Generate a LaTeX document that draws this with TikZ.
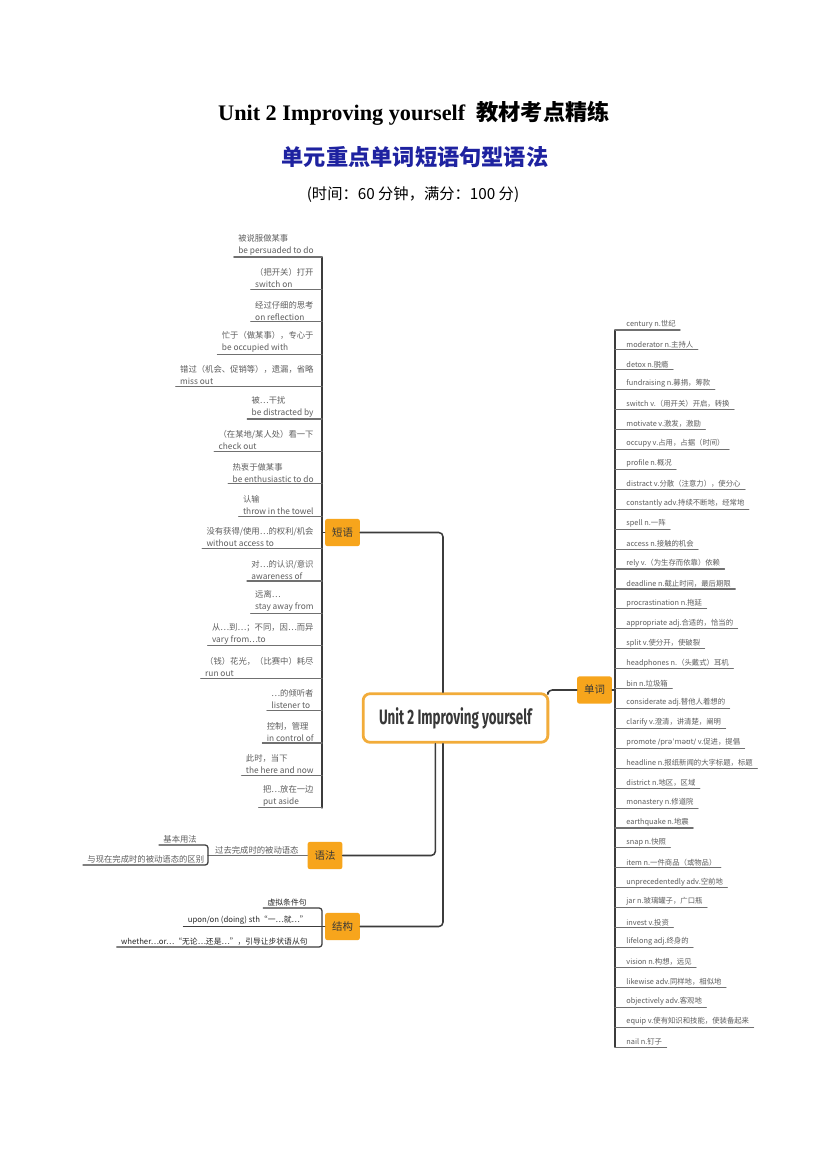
\documentclass[tikz,border=0pt]{standalone}
\usepackage{fontspec}
\setmainfont{Liberation Serif}
\newfontfamily\cjk{Noto Sans CJK SC}
\newfontfamily\ipa{DejaVu Sans}
\newfontfamily\zxfont[FakeStretch=0.64]{Fira Sans}
\definecolor{juhuang}{HTML}{F7A51C}
\definecolor{bianhuang}{HTML}{F2AC3A}
\definecolor{shenlan}{HTML}{1E22A0}
\definecolor{shenhui}{HTML}{3C3C3C}
\definecolor{huixian}{HTML}{707070}
\definecolor{huizi}{HTML}{5E5E5E}
\definecolor{zxzi}{HTML}{383838}
\begin{document}
\begin{tikzpicture}[x=0.72pt,y=-0.72pt,line join=round,line cap=round,
	zhongxin/.style={draw=bianhuang,line width=2pt,rounded corners=5pt,fill=white,minimum width=133pt,minimum height=35pt,font=\zxfont\bfseries\fontsize{15}{16}\selectfont,text=zxzi},
	zhi/.style={fill=juhuang,rounded corners=1.5pt,minimum width=25pt,minimum height=19.5pt,inner sep=0pt,font=\cjk\fontsize{7.5}{8}\selectfont,text=zxzi},
	xiang/.style={font=\cjk\fontsize{6}{8.6}\selectfont,text=huizi,align=left,inner xsep=3pt,inner ysep=1pt},
	ci/.style={font=\cjk\fontsize{5.3}{6}\selectfont,text=huizi,inner xsep=3pt,inner ysep=1.2pt},
	jg/.style={font=\cjk\fontsize{5.6}{6}\selectfont,text=black!85,inner xsep=3pt,inner ysep=1.2pt},
	xian/.style={draw=huixian,line width=0.8pt},
	gan/.style={draw=shenhui,line width=0.9pt},
	lian/.style={draw=shenhui,line width=1.1pt,rounded corners=3pt}]
	\def\xdy{322} \def\xdc{615} % x of the two brackets
	\fill[white] (0,0) rectangle (827,1169);
	\useasboundingbox (0,0) rectangle (827,1169);
	% header
	\node[font=\bfseries\fontsize{16}{19}\selectfont] (biaoti) at (414,113) {Unit 2 Improving yourself~~{\cjk 教材考点精练}};
	\node[font=\cjk\bfseries\fontsize{16}{18}\selectfont,text=shenlan] (fubiaoti) at (415,157) {单元重点单词短语句型语法};
	\node[font=\cjk\fontsize{11}{13}\selectfont] (shijian) at (413,195) {(时间：60 分钟，满分：100 分)};
	% centre and branches
	\node[zhongxin] (zx) at (455.5,718) {Unit 2 Improving yourself};
	\node[zhi] (duanyu) at (342.5,532.5) {短语};
	\node[zhi] (danci) at (594.5,690) {单词};
	\node[zhi] (yufa) at (325,855.5) {语法};
	\node[zhi] (jiegou) at (342.5,926.5) {结构};
	\draw[lian] (duanyu.east) -| ([xshift=-9pt]zx.north);
	\draw[lian] ([xshift=-1pt]zx.north east) |- (danci.west);
	\draw[lian] ([xshift=-14.5pt]zx.south) |- (yufa.east);
	\draw[lian] ([xshift=-9pt]zx.south) |- (jiegou.east);
	% 短语
	\draw[gan] (\xdy,257) -- (\xdy,808);
	\draw[gan] (duanyu.west) -- (\xdy,532.5);
	\foreach \zh/\en [count=\i from 0] in {被说服做某事/be persuaded to do,（把开关）打开/switch on,经过仔细的思考/on reflection,忙于（做某事），专心于/be occupied with,错过（机会、促销等），遗漏，省略/miss out,被…干扰/be distracted by,{（在某地/某人处）看一下}/check out,热衷于做某事/be enthusiastic to do,认输/throw in the towel,{没有获得/使用…的权利/机会}/without access to,{对…的认识/意识}/awareness of,远离…/stay away from,从…到…；不同，因…而异/vary from…to,（钱）花光，（比赛中）耗尽/run out,…的倾听者/listener to,控制，管理/in control of,此时，当下/the here and now,把…放在一边/put aside}{
		\pgfmathsetmacro\uy{257+32.4*\i}
		\node[xiang,anchor=south east] (dy\i) at (318,\uy) {\zh\\\en};
		\draw[xian] (dy\i.south west) -- (\xdy,\uy);
	}
	% 单词
	\draw[gan] (\xdc,330) -- (\xdc,1047);
	\draw[gan] (danci.east) -- (\xdc,690);
	\foreach \t [count=\i from 0] in {century n.世纪,moderator n.主持人,detox n.脱瘾,fundraising n.募捐，筹款,switch v.（用开关）开启，转换,motivate v.激发，激励,occupy v.占用，占据（时间）,profile n.概况,distract v.分散（注意力），使分心,constantly adv.持续不断地，经常地,spell n.一阵,access n.接触的机会,rely v.（为生存而依靠）依赖,deadline n.截止时间，最后期限,procrastination n.拖延,appropriate adj.合适的，恰当的,split v.使分开，使破裂,headphones n.（头戴式）耳机,bin n.垃圾箱,considerate adj.替他人着想的,clarify v.澄清，讲清楚，阐明,promote {\ipa/prəˈməʊt/} v.促进，提倡,headline n.报纸新闻的大字标题，标题,district n.地区，区域,monastery n.修道院,earthquake n.地震,snap n.快照,item n.一件商品（或物品）,unprecedentedly adv.空前地,jar n.玻璃罐子，广口瓶,invest v.投资,lifelong adj.终身的,vision n.构想，远见,likewise adv.同样地，相似地,objectively adv.客观地,equip v.使有知识和技能，使装备起来,nail n.钉子}{
		\pgfmathsetmacro\uy{330+19.92*\i}
		\node[ci,anchor=south west] (dc\i) at (622,\uy) {\t};
		\draw[xian] (\xdc,\uy) -- (dc\i.south east);
	}
	% 语法
	\coordinate (yfk) at (208,855.5);
	\node[xiang,anchor=south east] (yf0) at (303,855.5) {过去完成时的被动语态};
	\node[xiang,anchor=south west] (yf1) at (159,845) {基本用法};
	\node[xiang,anchor=south west] (yf2) at (83,865) {与现在完成时的被动语态的区别};
	\draw[xian] (yufa.west) -- (yfk);
	\draw[gan,rounded corners=2pt] (yf1.south west) -- (yfk |- yf1.south) -- (yfk |- yf2.south) -- (yf2.south west);
	% 结构
	\coordinate (jgk) at (322,926.5);
	\node[jg,anchor=south east] (jg0) at (311,908) {虚拟条件句};
	\node[jg,anchor=south east] (jg1) at (312,926.5) {upon/on (doing) sth“一…就…”};
	\node[jg,anchor=south east] (jg2) at (312,947) {whether…or…“无论…还是…”，引导让步状语从句};
	\draw[gan] (jiegou.west) -- (jg1.south west);
	\draw[gan,rounded corners=2pt] (jg0.south west) -- (jgk |- jg0.south) -- (jgk |- jg2.south) -- (jg2.south west);
\end{tikzpicture}
\end{document}
